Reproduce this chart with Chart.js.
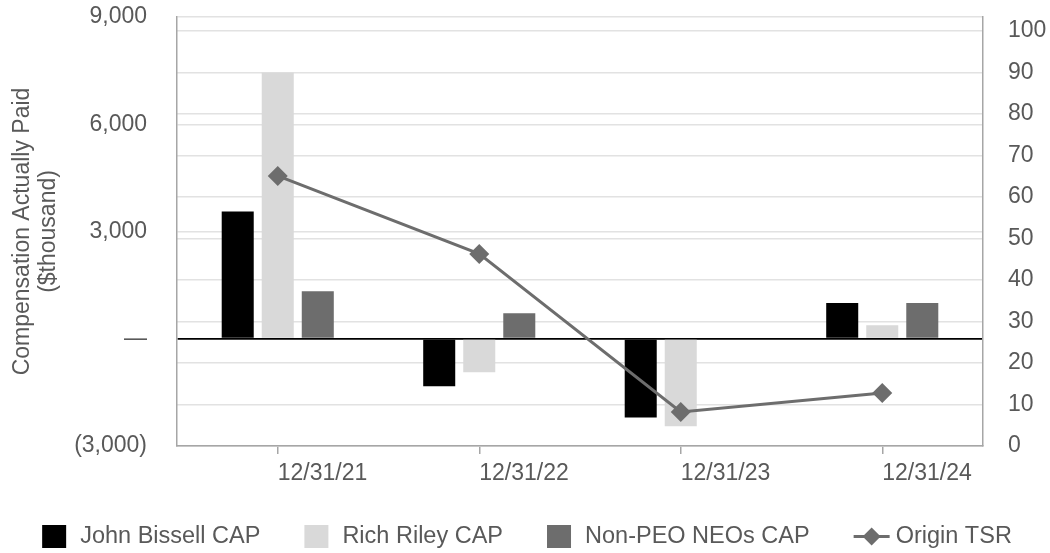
<!DOCTYPE html>
<html>
<head>
<meta charset="utf-8">
<script src="https://cdn.jsdelivr.net/npm/chart.js@4.4.1/dist/chart.umd.min.js"></script>
<style>
  body { margin: 0; background: #fff; }
  #wrap { width: 1050px; height: 553px; position: relative; }
</style>
</head>
<body>
<div id="wrap"><canvas id="capChart"></canvas></div>
<script>
const categories = ['12/31/21', '12/31/22', '12/31/23', '12/31/24'];
const bissellCap = [3560, -1330, -2200, 1000];
const rileyCap = [7450, -940, -2450, 380];
const neoCap = [1330, 710, 30, 1000];
const originTsr = [65.1, 46.3, 8.2, 12.8];
const capTicks = [-3000, 0, 3000, 6000, 9000];
const tsrTicks = [0, 10, 20, 30, 40, 50, 60, 70, 80, 90, 100];

const FONT = '"Liberation Sans", Arial, sans-serif';
const TEXT = '#595959';
const GRID = '#e2e2e2';
const AXIS = '#a6a6a6';
const DARK = '#6d6d6d';

// legend drawn by hand: boxes for the bars, line + diamond for TSR
const capLegend = {
  id: 'capLegend',
  afterDraw(chart) {
    const ctx = chart.ctx;
    ctx.save();
    ctx.font = '23.5px ' + FONT;
    ctx.textBaseline = 'middle';
    const items = chart.data.datasets.map(ds => {
      const isLine = ds.type === 'line';
      return { ds, isLine, icon: isLine ? 36 : 24, gap: isLine ? 6 : 14 };
    });
    const widths = items.map(it => it.icon + it.gap + ctx.measureText(it.ds.label).width);
    const spacing = 44;
    const total = widths.reduce((a, b) => a + b, 0) + spacing * (items.length - 1);
    let x = 527 - total / 2;
    const y = chart.height - 16.5;
    items.forEach((it, i) => {
      if (it.isLine) {
        ctx.strokeStyle = DARK;
        ctx.lineWidth = 3;
        ctx.beginPath();
        ctx.moveTo(x, y);
        ctx.lineTo(x + it.icon, y);
        ctx.stroke();
        ctx.fillStyle = DARK;
        ctx.beginPath();
        const cx = x + it.icon / 2, r = 9;
        ctx.moveTo(cx, y - r);
        ctx.lineTo(cx + r, y);
        ctx.lineTo(cx, y + r);
        ctx.lineTo(cx - r, y);
        ctx.closePath();
        ctx.fill();
      } else {
        ctx.fillStyle = it.ds.backgroundColor;
        ctx.fillRect(x, y - 11.5, it.icon, 23);
      }
      ctx.fillStyle = TEXT;
      ctx.textAlign = 'left';
      ctx.fillText(it.ds.label, x + it.icon + it.gap, y);
      x += widths[i] + spacing;
    });
    ctx.restore();
  }
};

function capLabel(v) {
  if (v === 0) return '\u2014';
  const s = Math.abs(v).toLocaleString('en-US');
  return v < 0 ? '(' + s + ')' : s;
}

const chrt = new Chart(document.getElementById('capChart'), {
  type: 'bar',
  data: {
    labels: categories,
    datasets: [
      {
        label: 'John Bissell CAP',
        data: bissellCap,
        backgroundColor: '#000000',
        yAxisID: 'y',
        order: 2
      },
      {
        label: 'Rich Riley CAP',
        data: rileyCap,
        backgroundColor: '#d9d9d9',
        yAxisID: 'y',
        order: 2
      },
      {
        label: 'Non-PEO NEOs CAP',
        data: neoCap,
        backgroundColor: DARK,
        yAxisID: 'y',
        order: 2
      },
      {
        type: 'line',
        label: 'Origin TSR',
        data: originTsr,
        yAxisID: 'y1',
        borderColor: DARK,
        backgroundColor: DARK,
        borderWidth: 3,
        pointStyle: 'rectRot',
        pointRadius: 10,
        pointBorderWidth: 0,
        tension: 0,
        order: 1
      }
    ]
  },
  options: {
    responsive: true,
    maintainAspectRatio: false,
    animation: false,
    datasets: {
      bar: { categoryPercentage: 0.596, barPercentage: 0.8 }
    },
    layout: { padding: { top: 17, bottom: 70, left: 0, right: 0 } },
    plugins: {
      legend: { display: false },
      tooltip: { enabled: false }
    },
    scales: {
      x: {
        grid: {
          drawOnChartArea: false,
          drawTicks: true,
          tickLength: 8,
          offset: false,
          color: AXIS,
          lineWidth: 1.5
        },
        border: { display: true, color: AXIS, width: 1.5 },
        ticks: {
          color: TEXT,
          align: 'start',
          padding: 6,
          maxRotation: 0,
          font: { family: FONT, size: 23 }
        },
        afterFit(scale) {
          scale.height = 37;
          scale.paddingLeft = 0;
          scale.paddingRight = 0;
        }
      },
      y: {
        position: 'left',
        min: -3000,
        max: 9000,
        afterBuildTicks(scale) { scale.ticks = capTicks.map(v => ({ value: v })); },
        grid: {
          drawTicks: false,
          color: c => (c.tick && c.tick.value === 0 ? '#000000' : GRID),
          lineWidth: c => (c.tick && c.tick.value === 0 ? 1.8 : 1.5)
        },
        border: { display: true, color: AXIS, width: 1.5 },
        ticks: {
          color: TEXT,
          padding: 30,
          font: { family: FONT, size: 23 },
          callback: v => capLabel(v)
        },
        title: {
          display: true,
          text: ['Compensation Actually Paid', '($thousand)'],
          color: TEXT,
          font: { family: FONT, size: 23, lineHeight: 26 / 23 },
          padding: { top: 10, bottom: 0 }
        },
        afterFit(scale) {
          scale.width = 177;
          scale.paddingTop = 0;
          scale.paddingBottom = 0;
        }
      },
      y1: {
        position: 'right',
        min: 0,
        max: 103.4,
        afterBuildTicks(scale) { scale.ticks = tsrTicks.map(v => ({ value: v })); },
        grid: {
          drawTicks: false,
          drawOnChartArea: true,
          color: GRID,
          lineWidth: 1.5
        },
        border: { display: true, color: AXIS, width: 1.5 },
        ticks: {
          color: TEXT,
          padding: 25,
          font: { family: FONT, size: 23 }
        },
        afterFit(scale) {
          scale.width = 67;
          scale.paddingTop = 0;
          scale.paddingBottom = 0;
        }
      }
    }
  },
  plugins: [capLegend]
});

console.log(chrt);
</script>
</body>
</html>
